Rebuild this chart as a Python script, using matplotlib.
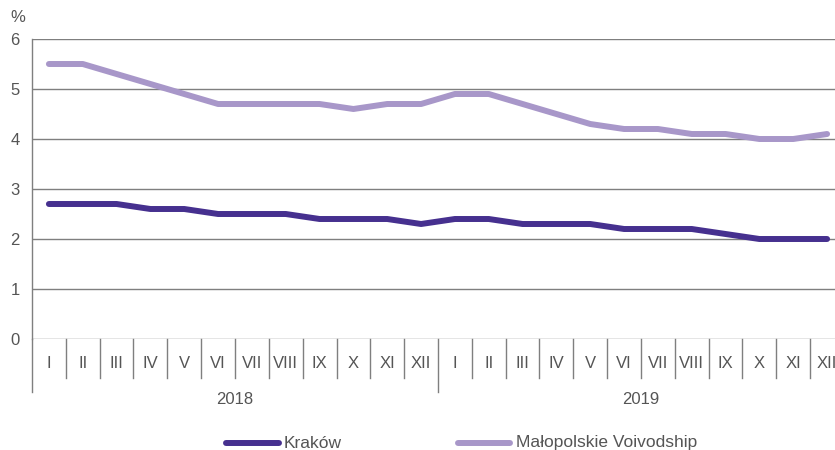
import matplotlib
matplotlib.use("Agg")
import matplotlib.pyplot as plt
import matplotlib.transforms as mtransforms
from matplotlib.lines import Line2D

plt.rcParams['font.family'] = ['Liberation Sans', 'DejaVu Sans']

months = ["I", "II", "III", "IV", "V", "VI", "VII", "VIII", "IX", "X", "XI", "XII"]
years = ["2018", "2019"]
krakow = [2.7, 2.7, 2.7, 2.6, 2.6, 2.5, 2.5, 2.5, 2.4, 2.4, 2.4, 2.3,
          2.4, 2.4, 2.3, 2.3, 2.3, 2.2, 2.2, 2.2, 2.1, 2.0, 2.0, 2.0]
malopolskie = [5.5, 5.5, 5.3, 5.1, 4.9, 4.7, 4.7, 4.7, 4.7, 4.6, 4.7, 4.7,
               4.9, 4.9, 4.7, 4.5, 4.3, 4.2, 4.2, 4.1, 4.1, 4.0, 4.0, 4.1]
series_names = ["Kraków", "Małopolskie Voivodship"]
c_krak = "#46308f"
c_malo = "#a897c9"
grey = "#7f7f7f"
txt = "#555555"
fs = 12

W, H = 835, 450
fig = plt.figure(figsize=(W / 100, H / 100), dpi=100)
ax = fig.add_axes([32 / W, (H - 339) / H, 812 / W, 300 / H])

n = len(krakow)
x = list(range(n))
lw = 4.3
ax.plot(x, malopolskie, color=c_malo, lw=lw, solid_capstyle='round', solid_joinstyle='round', clip_on=False)
ax.plot(x, krakow, color=c_krak, lw=lw, solid_capstyle='round', solid_joinstyle='round', clip_on=False)

ax.set_xlim(-0.5, n - 0.5)
ax.set_ylim(0, 6)
ax.set_yticks(range(0, 7))
ax.yaxis.grid(True, color=grey, lw=1.0)
ax.set_axisbelow(True)
for s in ["right", "top", "bottom"]:
    ax.spines[s].set_visible(False)
ax.spines["left"].set_color(grey)
ax.spines["left"].set_linewidth(1.0)
ax.tick_params(axis='y', length=0, pad=9, labelsize=fs, labelcolor=txt)

ax.set_xticks(x)
ax.set_xticklabels(months * len(years), fontsize=fs, color=txt)
ax.tick_params(axis='x', length=0, pad=12)

trans = mtransforms.blended_transform_factory(ax.transData, ax.transAxes)
for k in range(1, n):
    if k % 12 == 0:
        continue
    ax.plot([k - 0.5, k - 0.5], [0, -39 / 300], color=grey, lw=1.0, transform=trans, clip_on=False)
for k in range(0, n + 1, 12):
    ax.plot([k - 0.5, k - 0.5], [0, -53 / 300], color=grey, lw=1.0, transform=trans, clip_on=False)
for i, yr in enumerate(years):
    ax.text(i * 12 + 5.5, -(399 - 339) / 300, yr, transform=trans, ha='center', va='center',
            fontsize=fs, color=txt)

fig.text(10 / W, 1 - 18 / H, "%", fontsize=fs, color=txt, ha='left', va='center')

# legend
ly = 1 - 443 / H
legend_items = [(226, 279, 284), (458, 510, 516)]
for (x0, x1, xt), name, col in zip(legend_items, series_names, [c_krak, c_malo]):
    fig.add_artist(Line2D([x0 / W, x1 / W], [ly, ly], color=col, lw=lw, solid_capstyle='round',
                          transform=fig.transFigure))
    fig.text(xt / W, ly, name, fontsize=fs + 0.5, color=txt, ha='left', va='center')

fig.savefig("out.png", dpi=100)
